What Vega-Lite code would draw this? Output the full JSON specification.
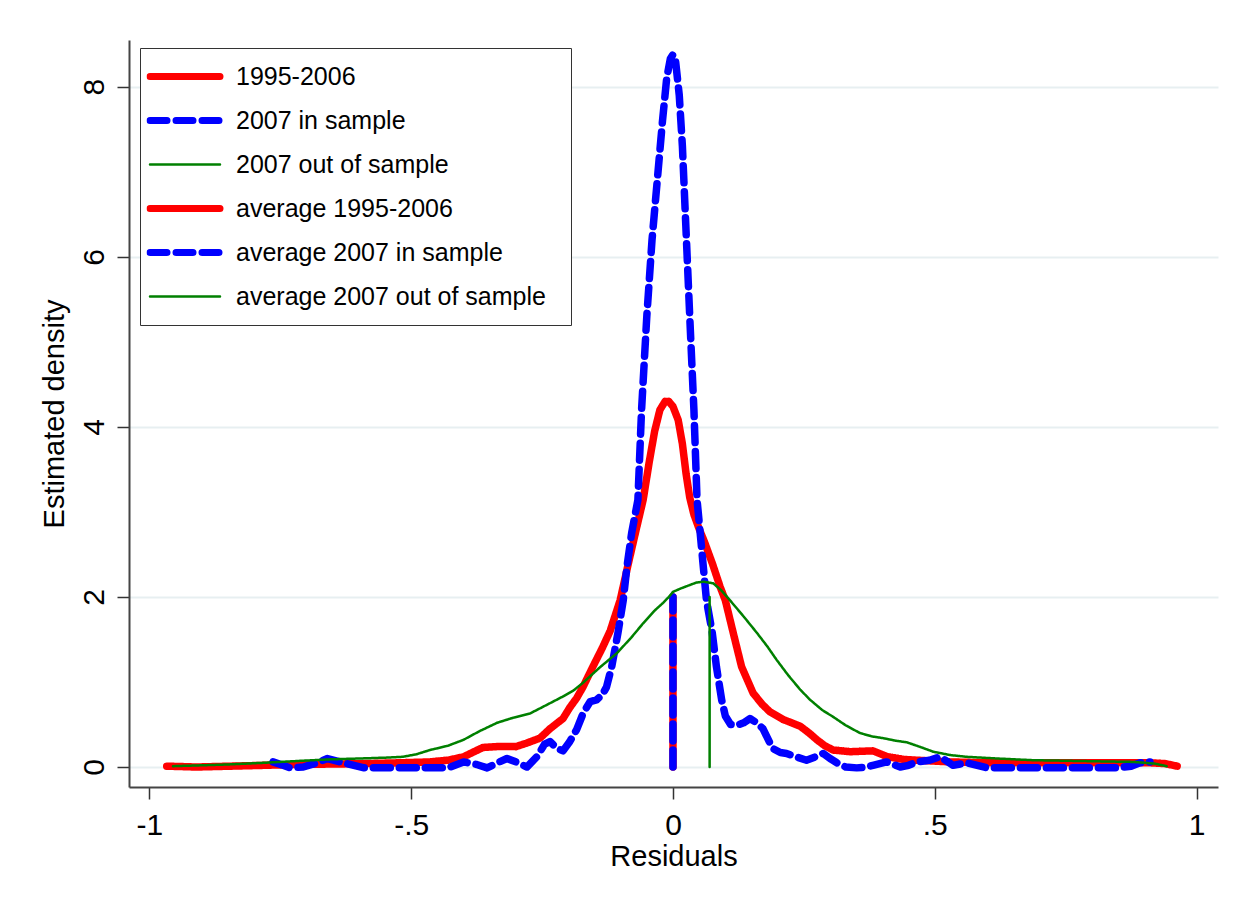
{
  "$schema": "https://vega.github.io/schema/vega-lite/v6.json",
  "autosize": {"type": "none"},
  "padding": {"left": 129, "top": 40, "right": 25, "bottom": 116},
  "width": 1089,
  "height": 747,
  "background": "white",
  "config": {
    "view": {"stroke": null},
    "font": "Liberation Sans"
  },
  "data": {"values": [
    {"s":"1995-2006","x":-0.967,"y":0.01},{"s":"1995-2006","x":-0.91,"y":0.0},{"s":"1995-2006","x":-0.846,"y":0.01},{"s":"1995-2006","x":-0.78,"y":0.02},{"s":"1995-2006","x":-0.72,"y":0.03},{"s":"1995-2006","x":-0.65,"y":0.035},{"s":"1995-2006","x":-0.59,"y":0.04},{"s":"1995-2006","x":-0.52,"y":0.05},{"s":"1995-2006","x":-0.464,"y":0.06},{"s":"1995-2006","x":-0.43,"y":0.08},{"s":"1995-2006","x":-0.4,"y":0.12},{"s":"1995-2006","x":-0.38,"y":0.18},{"s":"1995-2006","x":-0.363,"y":0.23},{"s":"1995-2006","x":-0.336,"y":0.24},{"s":"1995-2006","x":-0.3,"y":0.24},{"s":"1995-2006","x":-0.28,"y":0.28},{"s":"1995-2006","x":-0.254,"y":0.34},{"s":"1995-2006","x":-0.235,"y":0.45},{"s":"1995-2006","x":-0.21,"y":0.57},{"s":"1995-2006","x":-0.197,"y":0.7},{"s":"1995-2006","x":-0.184,"y":0.81},{"s":"1995-2006","x":-0.172,"y":0.94},{"s":"1995-2006","x":-0.153,"y":1.18},{"s":"1995-2006","x":-0.135,"y":1.4},{"s":"1995-2006","x":-0.12,"y":1.6},{"s":"1995-2006","x":-0.101,"y":1.96},{"s":"1995-2006","x":-0.085,"y":2.4},{"s":"1995-2006","x":-0.07,"y":2.8},{"s":"1995-2006","x":-0.057,"y":3.14},{"s":"1995-2006","x":-0.045,"y":3.6},{"s":"1995-2006","x":-0.035,"y":3.95},{"s":"1995-2006","x":-0.025,"y":4.2},{"s":"1995-2006","x":-0.015,"y":4.3},{"s":"1995-2006","x":-0.008,"y":4.3},{"s":"1995-2006","x":0.0,"y":4.24},{"s":"1995-2006","x":0.01,"y":4.08},{"s":"1995-2006","x":0.018,"y":3.8},{"s":"1995-2006","x":0.025,"y":3.45},{"s":"1995-2006","x":0.032,"y":3.17},{"s":"1995-2006","x":0.04,"y":2.97},{"s":"1995-2006","x":0.05,"y":2.8},{"s":"1995-2006","x":0.06,"y":2.65},{"s":"1995-2006","x":0.076,"y":2.38},{"s":"1995-2006","x":0.09,"y":2.12},{"s":"1995-2006","x":0.1,"y":1.96},{"s":"1995-2006","x":0.115,"y":1.58},{"s":"1995-2006","x":0.131,"y":1.18},{"s":"1995-2006","x":0.153,"y":0.87},{"s":"1995-2006","x":0.17,"y":0.74},{"s":"1995-2006","x":0.185,"y":0.65},{"s":"1995-2006","x":0.21,"y":0.56},{"s":"1995-2006","x":0.243,"y":0.48},{"s":"1995-2006","x":0.26,"y":0.4},{"s":"1995-2006","x":0.275,"y":0.32},{"s":"1995-2006","x":0.29,"y":0.25},{"s":"1995-2006","x":0.306,"y":0.2},{"s":"1995-2006","x":0.338,"y":0.18},{"s":"1995-2006","x":0.382,"y":0.19},{"s":"1995-2006","x":0.41,"y":0.12},{"s":"1995-2006","x":0.44,"y":0.09},{"s":"1995-2006","x":0.466,"y":0.08},{"s":"1995-2006","x":0.53,"y":0.06},{"s":"1995-2006","x":0.6,"y":0.05},{"s":"1995-2006","x":0.657,"y":0.05},{"s":"1995-2006","x":0.72,"y":0.05},{"s":"1995-2006","x":0.78,"y":0.05},{"s":"1995-2006","x":0.85,"y":0.05},{"s":"1995-2006","x":0.91,"y":0.05},{"s":"1995-2006","x":0.94,"y":0.04},{"s":"1995-2006","x":0.963,"y":0.01},

    {"s":"2007 in sample","x":-0.764,"y":0.06},{"s":"2007 in sample","x":-0.745,"y":0.02},{"s":"2007 in sample","x":-0.731,"y":-0.01},{"s":"2007 in sample","x":-0.706,"y":0.0},{"s":"2007 in sample","x":-0.68,"y":0.05},{"s":"2007 in sample","x":-0.66,"y":0.1},{"s":"2007 in sample","x":-0.63,"y":0.05},{"s":"2007 in sample","x":-0.59,"y":-0.01},{"s":"2007 in sample","x":-0.55,"y":-0.01},{"s":"2007 in sample","x":-0.5,"y":-0.01},{"s":"2007 in sample","x":-0.46,"y":-0.01},{"s":"2007 in sample","x":-0.43,"y":-0.01},{"s":"2007 in sample","x":-0.4,"y":0.06},{"s":"2007 in sample","x":-0.375,"y":0.03},{"s":"2007 in sample","x":-0.355,"y":-0.01},{"s":"2007 in sample","x":-0.335,"y":0.05},{"s":"2007 in sample","x":-0.317,"y":0.1},{"s":"2007 in sample","x":-0.3,"y":0.06},{"s":"2007 in sample","x":-0.279,"y":0.0},{"s":"2007 in sample","x":-0.26,"y":0.12},{"s":"2007 in sample","x":-0.245,"y":0.27},{"s":"2007 in sample","x":-0.235,"y":0.3},{"s":"2007 in sample","x":-0.222,"y":0.22},{"s":"2007 in sample","x":-0.21,"y":0.19},{"s":"2007 in sample","x":-0.197,"y":0.3},{"s":"2007 in sample","x":-0.184,"y":0.44},{"s":"2007 in sample","x":-0.171,"y":0.64},{"s":"2007 in sample","x":-0.158,"y":0.77},{"s":"2007 in sample","x":-0.146,"y":0.79},{"s":"2007 in sample","x":-0.135,"y":0.85},{"s":"2007 in sample","x":-0.127,"y":0.94},{"s":"2007 in sample","x":-0.117,"y":1.18},{"s":"2007 in sample","x":-0.105,"y":1.58},{"s":"2007 in sample","x":-0.095,"y":1.96},{"s":"2007 in sample","x":-0.088,"y":2.35},{"s":"2007 in sample","x":-0.079,"y":2.75},{"s":"2007 in sample","x":-0.067,"y":3.14},{"s":"2007 in sample","x":-0.06,"y":4.2},{"s":"2007 in sample","x":-0.05,"y":5.3},{"s":"2007 in sample","x":-0.04,"y":6.2},{"s":"2007 in sample","x":-0.03,"y":6.9},{"s":"2007 in sample","x":-0.02,"y":7.6},{"s":"2007 in sample","x":-0.012,"y":8.1},{"s":"2007 in sample","x":-0.005,"y":8.33},{"s":"2007 in sample","x":0.0,"y":8.38},{"s":"2007 in sample","x":0.005,"y":8.3},{"s":"2007 in sample","x":0.012,"y":7.9},{"s":"2007 in sample","x":0.018,"y":7.3},{"s":"2007 in sample","x":0.025,"y":6.3},{"s":"2007 in sample","x":0.032,"y":5.3},{"s":"2007 in sample","x":0.04,"y":4.2},{"s":"2007 in sample","x":0.046,"y":3.14},{"s":"2007 in sample","x":0.052,"y":2.75},{"s":"2007 in sample","x":0.058,"y":2.35},{"s":"2007 in sample","x":0.064,"y":1.96},{"s":"2007 in sample","x":0.075,"y":1.58},{"s":"2007 in sample","x":0.083,"y":1.18},{"s":"2007 in sample","x":0.093,"y":0.79},{"s":"2007 in sample","x":0.1,"y":0.6},{"s":"2007 in sample","x":0.11,"y":0.5},{"s":"2007 in sample","x":0.122,"y":0.49},{"s":"2007 in sample","x":0.135,"y":0.52},{"s":"2007 in sample","x":0.147,"y":0.57},{"s":"2007 in sample","x":0.16,"y":0.52},{"s":"2007 in sample","x":0.172,"y":0.45},{"s":"2007 in sample","x":0.19,"y":0.22},{"s":"2007 in sample","x":0.205,"y":0.17},{"s":"2007 in sample","x":0.217,"y":0.16},{"s":"2007 in sample","x":0.235,"y":0.12},{"s":"2007 in sample","x":0.255,"y":0.08},{"s":"2007 in sample","x":0.272,"y":0.12},{"s":"2007 in sample","x":0.287,"y":0.16},{"s":"2007 in sample","x":0.3,"y":0.1},{"s":"2007 in sample","x":0.313,"y":0.05},{"s":"2007 in sample","x":0.33,"y":0.0},{"s":"2007 in sample","x":0.351,"y":-0.01},{"s":"2007 in sample","x":0.37,"y":0.0},{"s":"2007 in sample","x":0.382,"y":0.02},{"s":"2007 in sample","x":0.408,"y":0.06},{"s":"2007 in sample","x":0.434,"y":0.0},{"s":"2007 in sample","x":0.45,"y":0.02},{"s":"2007 in sample","x":0.466,"y":0.06},{"s":"2007 in sample","x":0.49,"y":0.08},{"s":"2007 in sample","x":0.51,"y":0.12},{"s":"2007 in sample","x":0.535,"y":0.02},{"s":"2007 in sample","x":0.561,"y":0.05},{"s":"2007 in sample","x":0.6,"y":-0.01},{"s":"2007 in sample","x":0.65,"y":-0.01},{"s":"2007 in sample","x":0.72,"y":-0.01},{"s":"2007 in sample","x":0.8,"y":-0.01},{"s":"2007 in sample","x":0.848,"y":-0.01},{"s":"2007 in sample","x":0.875,"y":0.01},{"s":"2007 in sample","x":0.892,"y":0.05},{"s":"2007 in sample","x":0.911,"y":0.06},

    {"s":"2007 out of sample","x":-0.955,"y":0.01},{"s":"2007 out of sample","x":-0.9,"y":0.02},{"s":"2007 out of sample","x":-0.85,"y":0.03},{"s":"2007 out of sample","x":-0.78,"y":0.05},{"s":"2007 out of sample","x":-0.72,"y":0.07},{"s":"2007 out of sample","x":-0.655,"y":0.09},{"s":"2007 out of sample","x":-0.6,"y":0.1},{"s":"2007 out of sample","x":-0.55,"y":0.11},{"s":"2007 out of sample","x":-0.516,"y":0.12},{"s":"2007 out of sample","x":-0.49,"y":0.15},{"s":"2007 out of sample","x":-0.464,"y":0.2},{"s":"2007 out of sample","x":-0.43,"y":0.25},{"s":"2007 out of sample","x":-0.4,"y":0.32},{"s":"2007 out of sample","x":-0.37,"y":0.42},{"s":"2007 out of sample","x":-0.336,"y":0.52},{"s":"2007 out of sample","x":-0.305,"y":0.58},{"s":"2007 out of sample","x":-0.273,"y":0.63},{"s":"2007 out of sample","x":-0.235,"y":0.75},{"s":"2007 out of sample","x":-0.21,"y":0.83},{"s":"2007 out of sample","x":-0.19,"y":0.9},{"s":"2007 out of sample","x":-0.172,"y":0.99},{"s":"2007 out of sample","x":-0.14,"y":1.17},{"s":"2007 out of sample","x":-0.107,"y":1.34},{"s":"2007 out of sample","x":-0.08,"y":1.52},{"s":"2007 out of sample","x":-0.057,"y":1.69},{"s":"2007 out of sample","x":-0.035,"y":1.84},{"s":"2007 out of sample","x":-0.019,"y":1.93},{"s":"2007 out of sample","x":-0.008,"y":2.0},{"s":"2007 out of sample","x":0.0,"y":2.06},{"s":"2007 out of sample","x":0.015,"y":2.1},{"s":"2007 out of sample","x":0.032,"y":2.14},{"s":"2007 out of sample","x":0.045,"y":2.17},{"s":"2007 out of sample","x":0.058,"y":2.18},{"s":"2007 out of sample","x":0.077,"y":2.16},{"s":"2007 out of sample","x":0.092,"y":2.08},{"s":"2007 out of sample","x":0.109,"y":1.96},{"s":"2007 out of sample","x":0.135,"y":1.77},{"s":"2007 out of sample","x":0.16,"y":1.58},{"s":"2007 out of sample","x":0.18,"y":1.42},{"s":"2007 out of sample","x":0.198,"y":1.26},{"s":"2007 out of sample","x":0.22,"y":1.08},{"s":"2007 out of sample","x":0.243,"y":0.91},{"s":"2007 out of sample","x":0.262,"y":0.79},{"s":"2007 out of sample","x":0.285,"y":0.67},{"s":"2007 out of sample","x":0.306,"y":0.59},{"s":"2007 out of sample","x":0.33,"y":0.49},{"s":"2007 out of sample","x":0.357,"y":0.4},{"s":"2007 out of sample","x":0.38,"y":0.36},{"s":"2007 out of sample","x":0.401,"y":0.34},{"s":"2007 out of sample","x":0.425,"y":0.31},{"s":"2007 out of sample","x":0.447,"y":0.29},{"s":"2007 out of sample","x":0.475,"y":0.23},{"s":"2007 out of sample","x":0.497,"y":0.18},{"s":"2007 out of sample","x":0.53,"y":0.14},{"s":"2007 out of sample","x":0.561,"y":0.12},{"s":"2007 out of sample","x":0.62,"y":0.1},{"s":"2007 out of sample","x":0.688,"y":0.08},{"s":"2007 out of sample","x":0.74,"y":0.075},{"s":"2007 out of sample","x":0.783,"y":0.07},{"s":"2007 out of sample","x":0.83,"y":0.065},{"s":"2007 out of sample","x":0.879,"y":0.06},{"s":"2007 out of sample","x":0.92,"y":0.04},{"s":"2007 out of sample","x":0.943,"y":0.01},

    {"s":"average 1995-2006","x":0.0,"y":0},{"s":"average 1995-2006","x":0.0,"y":2.0},
    {"s":"average 2007 in sample","x":0.0,"y":0},{"s":"average 2007 in sample","x":0.0,"y":2.0},
    {"s":"average 2007 out of sample","x":0.07,"y":0},{"s":"average 2007 out of sample","x":0.07,"y":2.0}
  ]},
  "encoding": {
    "x": {
      "field": "x", "type": "quantitative",
      "scale": {"domain": [-1.039, 1.041], "nice": false, "zero": false},
      "axis": {
        "values": [-1, -0.5, 0, 0.5, 1],
        "labelExpr": "datum.value == -0.5 ? '-.5' : datum.value == 0.5 ? '.5' : datum.value == 0 ? '0' : datum.value == 1 ? '1' : '-1'",
        "grid": false,
        "title": "Residuals",
        "titleFontSize": 29, "titleFontWeight": "normal", "titleColor": "black", "titleFont": "Liberation Sans",
        "titlePadding": 2,
        "labelFontSize": 30, "labelColor": "black", "labelFont": "Liberation Sans",
        "labelPadding": 11,
        "tickSize": 12, "tickWidth": 1.5, "tickColor": "#333",
        "domainColor": "#444", "domainWidth": 2
      }
    },
    "y": {
      "field": "y", "type": "quantitative",
      "scale": {"domain": [-0.235, 8.55], "nice": false, "zero": false},
      "axis": {
        "values": [0, 2, 4, 6, 8],
        "grid": true, "gridColor": "#e7eff1", "gridWidth": 2,
        "title": "Estimated density",
        "titleFontSize": 29, "titleFontWeight": "normal", "titleColor": "black", "titleFont": "Liberation Sans",
        "titlePadding": 10,
        "labelAngle": -90,
        "labelFontSize": 30, "labelColor": "black", "labelFont": "Liberation Sans",
        "labelPadding": 8,
        "tickSize": 12, "tickWidth": 1.5, "tickColor": "#333",
        "domainColor": "#444", "domainWidth": 2
      }
    },
    "color": {
      "field": "s", "type": "nominal",
      "scale": {
        "domain": ["1995-2006", "2007 in sample", "2007 out of sample", "average 1995-2006", "average 2007 in sample", "average 2007 out of sample"],
        "range": ["#ff0000", "#0000ff", "#008000", "#ff0000", "#0000ff", "#008000"]
      },
      "legend": {
        "orient": "none", "legendX": 11, "legendY": 8,
        "title": " ", "titleOrient": "right", "titlePadding": 19, "titleFontSize": 25,
        "padding": 6.5, "clipHeight": 44, "rowPadding": 0,
        "symbolType": "stroke", "symbolSize": 4900, "symbolOffset": 26,
        "labelFontSize": 25, "labelOffset": 38.5, "labelColor": "black", "labelFont": "Liberation Sans", "labelLimit": 600,
        "strokeColor": "#333", "fillColor": "white",
        "encode": {"symbols": {"update": {
          "strokeCap": {"value": "round"},
          "strokeWidth": {"signal": "(datum.value == '2007 out of sample' || datum.value == 'average 2007 out of sample') ? 2.5 : 7"}
        }}}
      }
    },
    "strokeDash": {
      "field": "s", "type": "nominal",
      "scale": {
        "domain": ["1995-2006", "2007 in sample", "2007 out of sample", "average 1995-2006", "average 2007 in sample", "average 2007 out of sample"],
        "range": [[1, 0], [17, 9], [1, 0], [1, 0], [17, 9], [1, 0]]
      }
    }
  },
  "layer": [
    {
      "transform": [{"filter": "datum.s != '2007 out of sample' && datum.s != 'average 2007 out of sample'"}],
      "mark": {"type": "line", "strokeCap": "round", "strokeJoin": "round", "strokeWidth": 7.5, "clip": true}
    },
    {
      "transform": [{"filter": "datum.s == '2007 out of sample' || datum.s == 'average 2007 out of sample'"}],
      "mark": {"type": "line", "strokeCap": "round", "strokeJoin": "round", "strokeWidth": 2.5, "clip": true}
    }
  ]
}
